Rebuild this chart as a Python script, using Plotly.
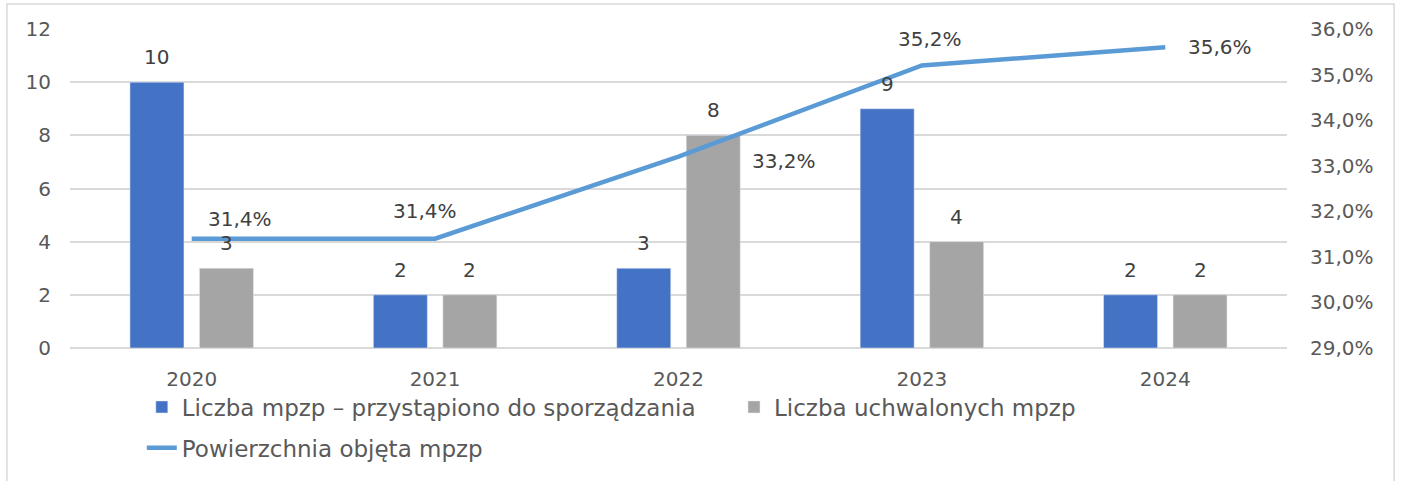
import plotly.graph_objects as go

years = ["2020", "2021", "2022", "2023", "2024"]
started = [10, 2, 3, 9, 2]
adopted = [3, 2, 8, 4, 2]
coverage = [0.314, 0.314, 0.332, 0.352, 0.356]

name_started = "Liczba mpzp – przystąpiono do sporządzania"
name_adopted = "Liczba uchwalonych mpzp"
name_cov = "Powierzchnia objęta mpzp"

FONT = "DejaVu Sans"
TXT = "#595959"
LBL = "#404040"
GRID = "#D9D9D9"

BARGAP = 0.429
GROUPGAP = 0.223

fig = go.Figure()
fig.add_trace(go.Bar(
    x=years, y=started, name=name_started, marker_color="#4472C4",
    legend="legend",
))
fig.add_trace(go.Bar(
    x=years, y=adopted, name=name_adopted, marker_color="#A5A5A5",
    legend="legend2",
))
fig.add_trace(go.Scatter(
    x=years, y=coverage, name=name_cov, mode="lines", yaxis="y2",
    line=dict(color="#5B9BD5", width=4.5), legend="legend3",
))

# bar data labels (offset to each bar's slot within its group)
cat_px = 1217 / len(years)
slot_px = cat_px * (1 - BARGAP) / 2
for series, sign in ((started, -1), (adopted, 1)):
    for i, v in enumerate(series):
        fig.add_annotation(
            x=i, xref="x", y=v, yref="y", text=str(v), showarrow=False,
            xshift=sign * slot_px / 2, yanchor="bottom", yshift=11,
            font=dict(family=FONT, size=20, color=LBL),
        )

# line data labels
shifts = [(48, 20), (-10, 28), (105, -4), (8, 26), (55, 0)]
for i, (yv, (dx, dy)) in enumerate(zip(coverage, shifts)):
    fig.add_annotation(
        x=i, xref="x", y=yv, yref="y2", text=f"{yv*100:.1f}%".replace(".", ","),
        showarrow=False, xshift=dx, yshift=dy,
        font=dict(family=FONT, size=20, color=LBL),
    )

# chart border
fig.add_shape(type="rect", xref="paper", yref="paper",
              x0=-0.0518, x1=1.088, y0=-0.45, y1=1.078,
              line=dict(color=GRID, width=1.5), layer="below")

leg_common = dict(orientation="h", font=dict(family=FONT, size=23, color=TXT),
                  bgcolor="rgba(0,0,0,0)", xanchor="left", yanchor="middle",
                  itemwidth=30)
fig.update_layout(
    width=1402, height=481,
    margin=dict(l=70, r=115, t=29, b=133),
    paper_bgcolor="white", plot_bgcolor="white",
    separators=", ",
    barmode="group", bargap=BARGAP, bargroupgap=GROUPGAP,
    font=dict(family=FONT, size=20, color=TXT),
    xaxis=dict(type="category", showgrid=False, showline=False,
               ticks="", ticklabelstandoff=17,
               tickfont=dict(family=FONT, size=20, color=TXT)),
    yaxis=dict(range=[0, 12], dtick=2, showgrid=True, gridcolor=GRID,
               gridwidth=1.5, zeroline=True, zerolinecolor=GRID,
               zerolinewidth=1.5, ticks="", ticklabelstandoff=18,
               tickfont=dict(family=FONT, size=20, color=TXT)),
    yaxis2=dict(range=[0.29, 0.36], dtick=0.01, tickformat=".1%",
                overlaying="y", side="right", showgrid=False, zeroline=False,
                ticks="", ticklabelstandoff=22,
                tickfont=dict(family=FONT, size=20, color=TXT)),
    legend=dict(x=0.059, y=-0.185, **leg_common),
    legend2=dict(x=0.5456, y=-0.185, **leg_common),
    legend3=dict(x=0.059, y=-0.313, **leg_common),
    showlegend=True,
)

fig.write_html("out.html", config={"displayModeBar": False},
               post_script="document.body.style.margin='0';document.body.style.overflow='hidden';")
